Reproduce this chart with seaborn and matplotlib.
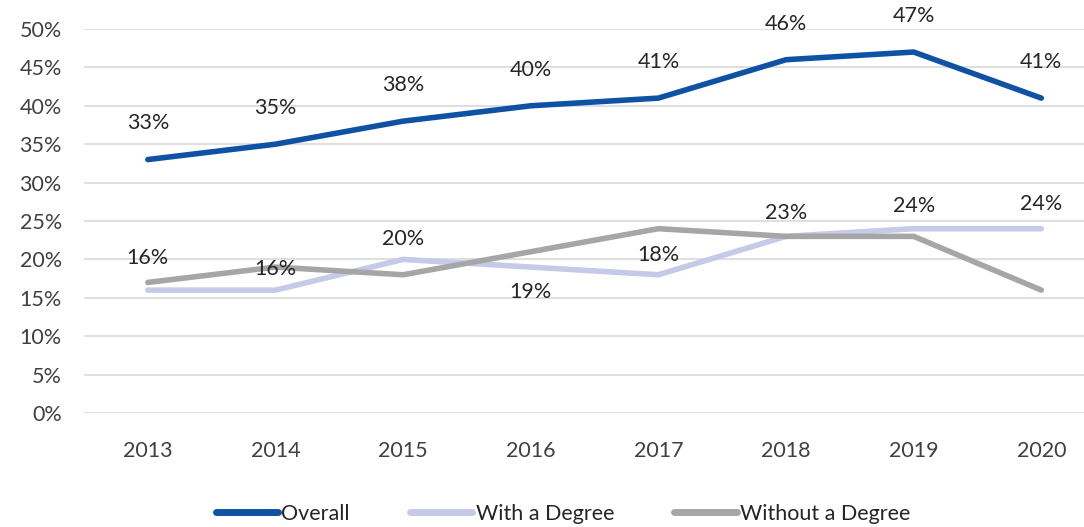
import numpy as np
import pandas as pd
import matplotlib.pyplot as plt
import seaborn as sns
from matplotlib.ticker import PercentFormatter

years = [2013, 2014, 2015, 2016, 2017, 2018, 2019, 2020]
overall = [33, 35, 38, 40, 41, 46, 47, 41]
with_degree = [16, 16, 20, 19, 18, 23, 24, 24]
without_degree = [17, 19, 18, 21, 24, 23, 23, 16]
series_names = ['Overall', 'With a Degree', 'Without a Degree']

COLORS = {
    'Overall': '#0F52A4',
    'With a Degree': '#C5CAE8',
    'Without a Degree': '#A6A6A6',
}

sns.set_theme(style='white')
plt.rcParams['font.family'] = ['Lato', 'DejaVu Sans']

df = pd.DataFrame({
    'year': [str(y) for y in years] * 3,
    'value': np.array(overall + with_degree + without_degree) / 100,
    'series': np.repeat(series_names, len(years)),
})

fig = plt.figure(figsize=(10.84, 5.27), dpi=100)
ax = fig.add_axes([0.0775, 0.2163, 0.942, 0.7287])

sns.lineplot(data=df, x='year', y='value', hue='series', hue_order=series_names,
             palette=COLORS, linewidth=4.0, sort=False, ax=ax, legend=True)
for ln in ax.lines:
    ln.set_solid_capstyle('round')
    ln.set_solid_joinstyle('round')

ax.set_ylim(0, 0.5)
ax.set_xlim(-0.5, len(years) - 0.5)
ax.set_yticks(np.arange(0, 0.51, 0.05))
ax.yaxis.set_major_formatter(PercentFormatter(1.0, decimals=0))
ax.grid(axis='y', color='#D9D9D9', linewidth=1.2)
ax.set_axisbelow(True)
for s in ax.spines.values():
    s.set_visible(False)
ax.tick_params(axis='both', length=0, labelsize=15.5, labelcolor='#404040')
ax.tick_params(axis='x', pad=20)
ax.tick_params(axis='y', pad=16)
ax.set_xlabel('')
ax.set_ylabel('')

# data labels
overall_off = [26] * len(years)
degree_off = [23, 15, 15, -18, 14, 17, 16, 18]
for i, v in enumerate(overall):
    ax.annotate(f'{v}%', (i, v / 100), xytext=(0, overall_off[i]),
                textcoords='offset points', ha='center', va='center',
                fontsize=15.5, color='#262626')
for i, v in enumerate(with_degree):
    ax.annotate(f'{v}%', (i, v / 100), xytext=(0, degree_off[i]),
                textcoords='offset points', ha='center', va='center',
                fontsize=15.5, color='#262626')

leg_x = (563 / 1084 - 0.0775) / 0.942
leg = ax.legend(loc='center', bbox_to_anchor=(leg_x, -0.263),
                ncol=3, frameon=False, fontsize=15.5, handlelength=2.9,
                columnspacing=2.8, handletextpad=0.15)
for t in leg.get_texts():
    t.set_color('#262626')
for h in leg.get_lines():
    h.set_linewidth(5)

fig.savefig('out.png', dpi=100)
